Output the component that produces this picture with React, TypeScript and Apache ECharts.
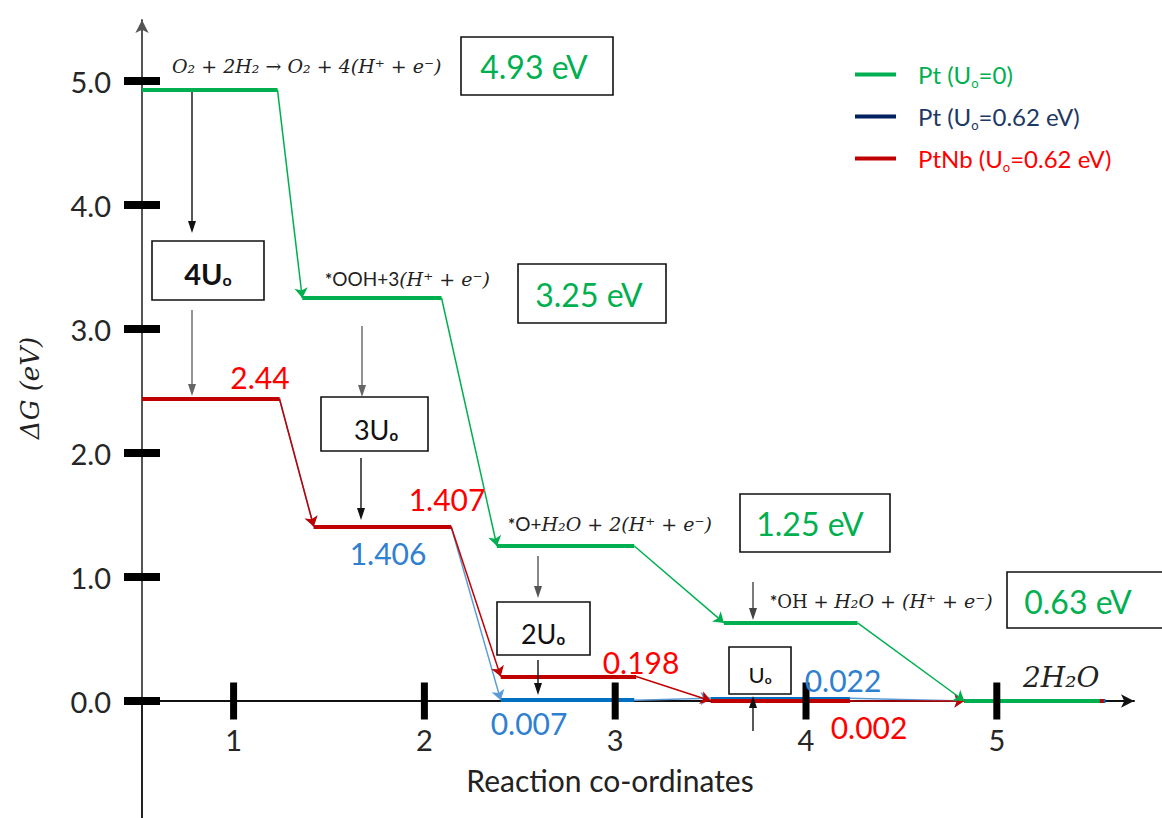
import React, { useEffect, useRef } from "react";
import * as echarts from "echarts";

// ---------- data ----------
const seriesNames = ["Pt (Uo=0)", "Pt (Uo=0.62 eV)", "PtNb (Uo=0.62 eV)"];
const greenLevels = [4.93, 3.25, 1.25, 0.63, 0];
const blueLevels = [2.44, 1.406, 0.007, 0.022, 0];
const redLevels = [2.44, 1.407, 0.198, 0.002, 0];
// reaction-coordinate extent of every plateau
const greenStart = [0.52, 1.36, 2.38, 3.57, 4.83];
const greenEnd = [1.23, 2.09, 3.1, 4.27, 5.54];
const blueStart = [0.52, 1.42, 2.4, 3.5, 4.83];
const blueEnd = [1.24, 2.14, 3.1, 4.23, 5.57];
const redStart = [0.52, 1.42, 2.4, 3.5, 4.83];
const redEnd = [1.24, 2.14, 3.11, 4.23, 5.56];
const xTickValues = [1, 2, 3, 4, 5];
const yTickValues = [0, 1, 2, 3, 4, 5];
const uMultipliers = ["4", "3", "2", ""];

const X_MIN = 0.52;
const X_MAX = 5.719;
const Y_MIN = 0;
const Y_MAX = 5.492;

const GREEN = "#00b050";
const BLUE_LINE = "#0070c0";
const BLUE_DIAG = "#5b9bd5";
const NAVY = "#002060";
const DARK_RED = "#c00000";
const RED_TXT = "#ff0000";
const BLUE_TXT = "#2f80d0";
const SANS = "Lato, 'Open Sans', sans-serif";
const SERIF = "'DejaVu Serif', 'Liberation Serif', serif";

function plateaus(start: number[], end: number[], levels: number[]) {
  return levels.map((v, i) => ({ coords: [[start[i], v], [end[i], v]] }));
}
function transitions(start: number[], end: number[], levels: number[]) {
  return levels.slice(1).map((v, i) => ({
    coords: [[end[i], levels[i]], [start[i + 1], v]],
  }));
}

const curves = [
  { name: seriesNames[1], levels: blueLevels, start: blueStart, end: blueEnd, plateau: BLUE_LINE, diag: BLUE_DIAG, z: 3 },
  { name: seriesNames[2], levels: redLevels, start: redStart, end: redEnd, plateau: DARK_RED, diag: DARK_RED, z: 4 },
  { name: seriesNames[0], levels: greenLevels, start: greenStart, end: greenEnd, plateau: GREEN, diag: GREEN, z: 5 },
];

const curveSeries: any[] = [];
curves.forEach((c) => {
  curveSeries.push({
    type: "lines",
    name: c.name,
    coordinateSystem: "cartesian2d",
    data: plateaus(c.start, c.end, c.levels),
    lineStyle: { color: c.plateau, width: 4, opacity: 1 },
    symbol: "none",
    clip: false,
    z: c.z,
    silent: true,
  });
  curveSeries.push({
    type: "lines",
    name: c.name,
    coordinateSystem: "cartesian2d",
    data: transitions(c.start, c.end, c.levels),
    lineStyle: { color: c.diag, width: 1.5, opacity: 1 },
    symbol: ["none", "arrow"],
    symbolSize: 10,
    itemStyle: { color: c.diag },
    clip: false,
    z: c.z,
    silent: true,
  });
});

// ---------- annotations ----------
function vArrow(x: number, y1: number, y2: number, color: string) {
  const dir = y2 > y1 ? 1 : -1;
  return [
    { type: "line", shape: { x1: x, y1, x2: x, y2: y2 - dir * 10 }, style: { stroke: color, lineWidth: 1.4 }, z: 20 },
    {
      type: "polygon",
      shape: { points: [[x - 4, y2 - dir * 12], [x + 4, y2 - dir * 12], [x, y2]] },
      style: { fill: color },
      z: 20,
    },
  ];
}

function boxRect(x: number, y: number, w: number, h: number) {
  return { type: "rect", shape: { x, y, width: w, height: h }, style: { fill: "#fff", stroke: "#111", lineWidth: 1.6 }, z: 15 };
}

function centerText(x: number, y: number, text: string, style: any) {
  return { type: "text", x, y, style: { text, align: "center", verticalAlign: "middle", ...style }, z: 21 };
}

const energyBoxes = [
  { r: [461, 37, 152, 58], c: [534, 66] },
  { r: [518, 264, 148, 59], c: [589, 294] },
  { r: [740, 494, 150, 58], c: [810, 523] },
  { r: [1007, 572, 170, 56], c: [1078, 601] },
];
const uBoxes = [
  { r: [152, 241, 112, 59], c: [208, 270], fs: 29, bold: true },
  { r: [321, 397, 107, 54], c: [376, 426], fs: 27, bold: false },
  { r: [497, 602, 93, 53], c: [543, 630], fs: 27, bold: false },
  { r: [729, 647, 62, 47], c: [760, 671], fs: 22, bold: false },
];

const graphics: any[] = [];
// y axis continues below the x axis
graphics.push({ type: "line", shape: { x1: 142, y1: 701, x2: 142, y2: 818 }, style: { stroke: "#222", lineWidth: 2 }, z: 1 });

energyBoxes.forEach((b, i) => {
  graphics.push(boxRect(b.r[0], b.r[1], b.r[2], b.r[3]));
  graphics.push(
    centerText(b.c[0], b.c[1], `${greenLevels[i].toFixed(2)} eV`, { fill: GREEN, fontSize: 32, fontFamily: SANS })
  );
});
uBoxes.forEach((b, i) => {
  graphics.push(boxRect(b.r[0], b.r[1], b.r[2], b.r[3]));
  graphics.push(
    centerText(b.c[0], b.c[1], `{n|${uMultipliers[i]}U}{s|o}`, {
      fill: "#111",
      rich: {
        n: { fontSize: b.fs, fontWeight: b.bold ? "bold" : "normal", fontFamily: SANS, lineHeight: b.fs + 6, verticalAlign: "bottom", fill: "#111" },
        s: { fontSize: Math.round(b.fs * 0.55), fontWeight: "bold", fontFamily: SANS, lineHeight: Math.round(b.fs * 0.5), verticalAlign: "bottom", fill: "#111" },
      },
    })
  );
});

[
  [192, 92, 233, "#111"],
  [192, 310, 396, "#666"],
  [362, 326, 397, "#666"],
  [361, 458, 520, "#111"],
  [538, 556, 598, "#555"],
  [538, 660, 695, "#111"],
  [753, 582, 620, "#444"],
  [753, 731, 696, "#111"],
].forEach((a: any) => graphics.push(...vArrow(a[0], a[1], a[2], a[3])));

const valueLabels = [
  { t: redLevels[0].toFixed(2), x: 260, y: 377, c: RED_TXT },
  { t: redLevels[1].toFixed(3), x: 447, y: 499, c: RED_TXT },
  { t: blueLevels[1].toFixed(3), x: 388, y: 553, c: BLUE_TXT },
  { t: redLevels[2].toFixed(3), x: 641, y: 662, c: RED_TXT },
  { t: blueLevels[2].toFixed(3), x: 529, y: 723, c: BLUE_TXT },
  { t: blueLevels[3].toFixed(3), x: 843, y: 680, c: BLUE_TXT },
  { t: redLevels[3].toFixed(3), x: 869, y: 727, c: RED_TXT },
];
valueLabels.forEach((l) => graphics.push(centerText(l.x, l.y, l.t, { fill: l.c, fontSize: 30, fontFamily: SANS })));

const eqRich = {
  i: { fontFamily: SERIF, fontStyle: "italic", fontSize: 19, fill: "#222", lineHeight: 24, verticalAlign: "bottom" },
  u: { fontFamily: SERIF, fontSize: 18, fill: "#222", lineHeight: 24, verticalAlign: "bottom" },
  b: { fontFamily: SANS, fontSize: 19, fill: "#222", lineHeight: 24, verticalAlign: "bottom" },
  a: { fontFamily: SANS, fontSize: 17, fontWeight: "bold", fill: "#222", lineHeight: 24, verticalAlign: "bottom" },
  w: { fontFamily: SERIF, fontStyle: "italic", fontSize: 28, fill: "#222", lineHeight: 34 },
};
const equations = [
  { t: "{i|O₂ + 2H₂ → O₂ + 4(H⁺ + e⁻)}", x: 172, y: 63 },
  { t: "{a|*}{b|OOH+3}{i|(H⁺ + e⁻)}", x: 325, y: 276 },
  { t: "{a|*}{b|O+}{i|H₂O + 2(H⁺ + e⁻)}", x: 508, y: 521 },
  { t: "{a|*}{u|OH + }{i|H₂O + (H⁺ + e⁻)}", x: 770, y: 598 },
  { t: "{w|2H₂O}", x: 1023, y: 677 },
];
equations.forEach((e) =>
  graphics.push({ type: "text", x: e.x, y: e.y, style: { text: e.t, align: "left", verticalAlign: "middle", rich: eqRich }, z: 21 })
);

graphics.push({
  type: "text",
  x: 30,
  y: 388,
  rotation: Math.PI / 2,
  style: {
    text: "ΔG (eV)",
    align: "center",
    verticalAlign: "middle",
    fontFamily: SERIF,
    fontStyle: "italic",
    fontSize: 26,
    fill: "#222",
  },
  z: 21,
});

const option: any = {
  animation: false,
  backgroundColor: "#fff",
  grid: { left: 142, right: 28, top: 20, bottom: 117, containLabel: false, outerBoundsMode: "none" },
  legend: {
    orient: "vertical",
    left: 850,
    top: 55,
    icon: "rect",
    itemWidth: 41,
    itemHeight: 4,
    itemGap: 13,
    selectedMode: false,
    textStyle: {
      fontFamily: SANS,
      fontSize: 24,
      lineHeight: 29,
      padding: [0, 0, 0, 17],
      rich: { s: { fontSize: 13, lineHeight: 13, verticalAlign: "bottom", fontFamily: SANS } },
    },
    formatter: (name: string) => name.replace("Uo", "U{s|o}"),
    data: [
      { name: seriesNames[0], itemStyle: { color: GREEN, borderWidth: 0 }, textStyle: { color: GREEN } },
      { name: seriesNames[1], itemStyle: { color: NAVY, borderWidth: 0 }, textStyle: { color: "#203864" } },
      { name: seriesNames[2], itemStyle: { color: DARK_RED, borderWidth: 0 }, textStyle: { color: RED_TXT } },
    ],
  },
  xAxis: {
    type: "value",
    min: X_MIN,
    max: X_MAX,
    name: "Reaction co-ordinates",
    nameLocation: "middle",
    nameGap: 64,
    nameTextStyle: { fontFamily: SANS, fontSize: 30, color: "#222", padding: [0, 56, 0, 0] },
    axisLine: { symbol: ["none", "arrow"], symbolSize: [10, 13], lineStyle: { color: "#111", width: 2 } },
    axisTick: { show: false },
    splitLine: { show: false },
    axisLabel: {
      customValues: xTickValues,
      fontFamily: SANS,
      fontSize: 29,
      color: "#262626",
      margin: 24,
      formatter: (v: number) => String(v),
    },
  },
  yAxis: {
    type: "value",
    min: Y_MIN,
    max: Y_MAX,
    axisLine: { show: true, symbol: ["none", "arrow"], symbolSize: [10, 13], lineStyle: { color: "#555", width: 2 } },
    axisTick: { show: false },
    splitLine: { show: false },
    axisLabel: {
      customValues: yTickValues,
      fontFamily: SANS,
      fontSize: 29,
      color: "#262626",
      margin: 31,
      formatter: (v: number) => v.toFixed(1),
    },
  },
  series: [
    ...curveSeries,
    {
      type: "scatter",
      name: "yTicks",
      data: yTickValues.map((v) => [X_MIN, v]),
      symbol: "rect",
      symbolSize: [36, 8],
      itemStyle: { color: "#000", opacity: 1 },
      clip: false,
      silent: true,
      z: 6,
    },
    {
      type: "scatter",
      name: "xTicks",
      data: xTickValues.map((v) => [v, 0]),
      symbol: "rect",
      symbolSize: [7, 37],
      itemStyle: { color: "#000", opacity: 1 },
      clip: false,
      silent: true,
      z: 6,
    },
  ],
  graphic: graphics,
};

export default function App() {
  const ref = useRef<HTMLDivElement>(null);
  useEffect(() => {
    const chart = echarts.init(ref.current!, null, { renderer: "svg" });
    chart.setOption(option);
    return () => chart.dispose();
  }, []);
  return (
    <div
      ref={ref}
      style={{ position: "fixed", left: 0, top: 0, width: 1162, height: 818, background: "#fff" }}
    />
  );
}
